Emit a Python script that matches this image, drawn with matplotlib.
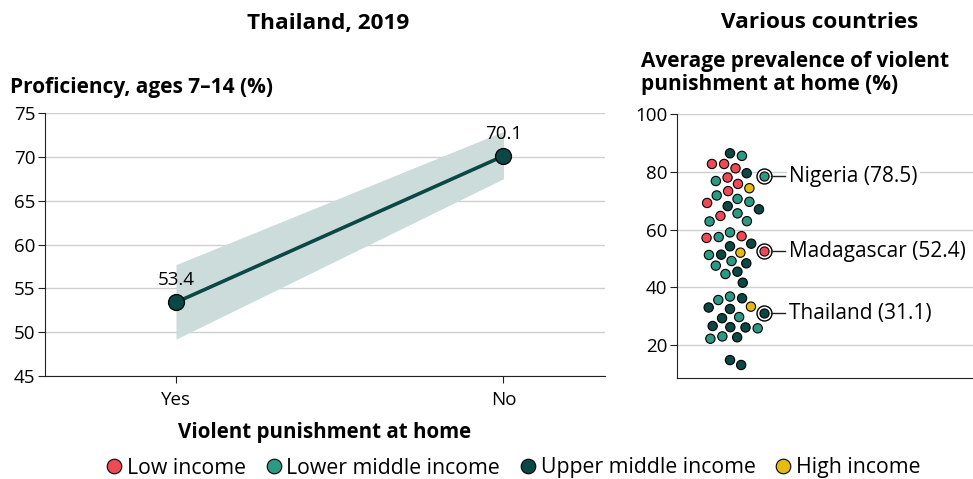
import numpy as np
import matplotlib
matplotlib.use("Agg")
import matplotlib.pyplot as plt
from matplotlib.lines import Line2D

plt.rcParams['font.family'] = ['Open Sans', 'Noto Sans', 'DejaVu Sans']

# left panel: Thailand 2019
groups = ["Yes", "No"]
proficiency = [53.4, 70.1]
ci_low = [49.2, 67.5]
ci_high = [57.7, 72.9]

# right panel: average prevalence of violent punishment at home, by country
prevalence = [85.5, 86.4, 81.2, 82.7, 82.7, 79.5, 76.8, 78.0, 75.8, 74.3,
              73.3, 71.8, 70.6, 69.2, 69.6, 67.0, 68.1, 64.7, 65.6, 62.8,
              62.9, 57.7, 57.4, 59.0, 57.1, 54.2, 55.1, 51.3, 52.0, 51.2,
              49.1, 48.3, 47.5, 45.4, 44.6, 41.6, 36.8, 36.2, 35.6, 33.3,
              33.0, 32.5, 29.7, 29.3, 26.6, 26.1, 25.8, 26.2, 23.0, 22.7,
              22.2, 14.8, 13.1]
income = ["LM", "UM", "L", "L", "L", "UM", "LM", "L", "L", "H",
          "L", "LM", "LM", "L", "LM", "UM", "UM", "L", "LM", "LM",
          "LM", "L", "LM", "LM", "L", "UM", "UM", "UM", "H", "LM",
          "LM", "UM", "LM", "UM", "LM", "UM", "LM", "UM", "LM", "H",
          "UM", "UM", "LM", "UM", "UM", "UM", "LM", "UM", "LM", "UM",
          "LM", "UM", "UM"]
highlight_names = ["Nigeria", "Madagascar", "Thailand"]
highlight_vals = [78.5, 52.4, 31.1]
highlight_income = ["LM", "L", "UM"]

income_names = {"L": "Low income", "LM": "Lower middle income",
                "UM": "Upper middle income", "H": "High income"}
colors = {"L": "#ee4a55", "LM": "#2a9a84", "UM": "#0b4744", "H": "#e4bb0e"}
dark = "#0b4744"
grid_c = "#cfcfcf"


def swarm(ypx, d):
    # place points one by one at the smallest offset that avoids overlap
    order = np.argsort(ypx)[::-1]
    xs = np.zeros(len(ypx))
    placed = []
    for i in order:
        y = ypx[i]
        cands = [0.0]
        for px, py in placed:
            dy = abs(py - y)
            if dy < d:
                dx = np.sqrt(d * d - dy * dy)
                cands += [px + dx, px - dx]
        cands.sort(key=abs)
        for c in cands:
            if all((c - px) ** 2 + (y - py) ** 2 >= d * d - 1e-6 for px, py in placed):
                xs[i] = c
                placed.append((c, y))
                break
    return xs


fig = plt.figure(figsize=(9.73, 4.79), dpi=100)

# ---- left panel
ax = fig.add_axes([45 / 973, 1 - 376 / 479, 560 / 973, 263 / 479])
x = np.arange(len(groups))
ax.fill_between(x, ci_low, ci_high, color="#ccdcda", lw=0, zorder=1)
ax.plot(x, proficiency, color=dark, lw=2.6, marker="o", ms=11.5,
        mfc=dark, mec="black", mew=0.9, zorder=3)
for xi, v in zip(x, proficiency):
    ax.text(xi, v + 1.5, f"{v}", ha="center", va="bottom", fontsize=13.5)
ax.set_xlim(-0.40, 1.31)
ax.set_ylim(45, 75)
ax.set_yticks(range(45, 80, 5))
ax.set_xticks(x)
ax.set_xticklabels(groups)
ax.grid(axis="y", color=grid_c, lw=1)
ax.set_axisbelow(True)
for s in ["top", "right"]:
    ax.spines[s].set_visible(False)
ax.spines["left"].set_color("#222222")
ax.spines["bottom"].set_color("#222222")
ax.tick_params(labelsize=13.5, length=5, color="#222222", pad=2)
ax.tick_params(axis="x", labelsize=13.5, pad=6)
ax.set_xlabel("Violent punishment at home", fontsize=14.8, fontweight="bold", labelpad=9)

# ---- right panel
ax2 = fig.add_axes([677 / 973, 1 - 378 / 479, 296 / 973, 264 / 479])
ymin, ymax = 8.6, 100
ax2.set_ylim(ymin, ymax)
ax2.set_xlim(0, 296)
px_per_unit = 264 / (ymax - ymin)
yp = np.array(prevalence) * px_per_unit
xoff = swarm(yp, 12.2)
ax2.scatter(53 + xoff, prevalence, s=45, c=[colors[g] for g in income],
            edgecolors="black", linewidths=0.8, zorder=3)
for name, v, g in zip(highlight_names, highlight_vals, highlight_income):
    ax2.plot(87, v, "o", ms=10.8, mfc="white", mec="black", mew=1.0, zorder=3)
    ax2.plot(87, v, "o", ms=6.6, mfc=colors[g], mec="black", mew=0.8, zorder=4)
    ax2.plot([94, 108], [v, v], color="#222222", lw=1, zorder=3)
    ax2.text(112, v, f"{name} ({v})", va="center", ha="left", fontsize=15,
             bbox=dict(facecolor="white", edgecolor="none", pad=1.5), zorder=3)
ax2.set_yticks([20, 40, 60, 80, 100])
ax2.set_xticks([])
ax2.grid(axis="y", color=grid_c, lw=1)
ax2.set_axisbelow(True)
for s in ["top", "right"]:
    ax2.spines[s].set_visible(False)
ax2.spines["left"].set_color("#222222")
ax2.spines["bottom"].set_color("#222222")
ax2.tick_params(labelsize=13.5, length=5, color="#222222", pad=2)

# ---- titles
fig.text(328 / 973, 1 - 23 / 479, "Thailand, 2019", ha="center", va="center",
         fontsize=16.2, fontweight="bold")
fig.text(820 / 973, 1 - 23 / 479, "Various countries", ha="center", va="center",
         fontsize=16.2, fontweight="bold")
fig.text(10 / 973, 1 - 87 / 479, "Proficiency, ages 7\u201314 (%)", ha="left", va="center",
         fontsize=15, fontweight="bold")
fig.text(641 / 973, 1 - 73 / 479, "Average prevalence of violent\npunishment at home (%)",
         ha="left", va="center", fontsize=15, fontweight="bold", linespacing=1.12)

# ---- legend
handles = [Line2D([], [], ls="", marker="o", ms=10.5, mfc=colors[k], mec="black",
                  mew=0.8, label=income_names[k]) for k in ["L", "LM", "UM", "H"]]
fig.legend(handles=handles, loc="center", bbox_to_anchor=(512 / 973, 1 - 468 / 479),
           ncol=4, frameon=False, fontsize=15.3, handletextpad=0.1, columnspacing=0.8,
           handlelength=1.0, borderaxespad=0)

fig.savefig("out.png", dpi=100)
